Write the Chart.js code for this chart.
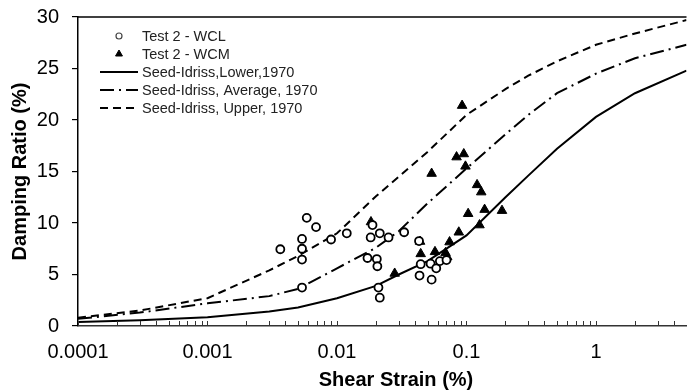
<!DOCTYPE html>
<html>
<head>
<meta charset="utf-8">
<script src="https://cdn.jsdelivr.net/npm/chart.js@4.4.1/dist/chart.umd.min.js"></script>
<style>
  html, body { margin: 0; padding: 0; background: #fff; overflow: hidden; }
  #wrap { width: 687px; height: 392px; overflow: hidden; }
  canvas { display: block; }
</style>
</head>
<body>
<div id="wrap"><canvas id="dampingGraph" width="693" height="392"></canvas></div>
<script>
// Seed & Idriss (1970) damping bounds for sand
const curveStrain = [0.0001, 0.0003, 0.001, 0.003, 0.005, 0.01, 0.02, 0.03, 0.05, 0.1, 0.2, 0.3, 0.5, 1, 2, 5];
const lowerDamping = [0.4, 0.55, 0.85, 1.4, 1.8, 2.7, 3.9, 5.0, 6.3, 8.8, 12.5, 14.6, 17.2, 20.3, 22.6, 24.8];
const averageDamping = [0.7, 1.3, 2.2, 2.9, 3.6, 5.6, 7.6, 9.2, 11.9, 15.3, 18.6, 20.5, 22.6, 24.5, 26.0, 27.3];
const upperDamping = [0.8, 1.5, 2.7, 5.4, 6.8, 9.0, 12.6, 14.5, 16.9, 20.5, 23.0, 24.3, 25.7, 27.3, 28.4, 29.7];

// Test 2 measurements
const wclStrain = [0.00365, 0.00537, 0.00537, 0.00537, 0.00537, 0.00584, 0.00689, 0.0090, 0.0119, 0.0172,
                   0.0182, 0.0188, 0.0203, 0.0205, 0.0209, 0.0214, 0.0214, 0.0250, 0.0330, 0.0430,
                   0.0434, 0.0443, 0.0528, 0.0538, 0.0584, 0.0623, 0.0701];
const wclDamping = [7.45, 3.73, 6.45, 7.5, 8.45, 10.5, 9.6, 8.4, 9.0, 6.6,
                    8.6, 9.8, 6.5, 5.8, 3.73, 9.0, 2.75, 8.6, 9.1, 8.25,
                    4.9, 6.0, 6.05, 4.5, 5.6, 6.3, 6.4];
const wcmStrain = [0.0183, 0.0279, 0.0438, 0.0443, 0.0538, 0.0571, 0.0689, 0.0710, 0.0740, 0.0872,
                   0.0838, 0.0925, 0.0953, 0.0982, 0.103, 0.1207, 0.130, 0.126, 0.138, 0.188];
const wcmDamping = [10.1, 5.1, 8.2, 7.0, 14.8, 7.2, 7.1, 6.7, 8.15, 9.1,
                    16.4, 21.4, 16.7, 15.5, 10.9, 13.7, 13.0, 9.8, 11.3, 11.2];

const strainTicks = ['0.0001', '0.001', '0.01', '0.1', '1'];
const dampingTicks = [0, 5, 10, 15, 20, 25, 30];

const seriesNames = ['Test 2 - WCL', 'Test 2 - WCM', 'Seed-Idriss,Lower,1970',
                     'Seed-Idriss, Average, 1970', 'Seed-Idriss, Upper, 1970'];
const strainTitle = 'Shear Strain (%)';

function pairUp(xs, ys) {
    return xs.map((x, i) => ({ x: x, y: ys[i] }));
}

Chart.defaults.font.family = '"Liberation Sans", Arial, sans-serif';
Chart.defaults.color = '#000';

// legend drawn inside the plot, top left
const insideLegend = {
    id: 'insideLegend',
    afterDraw(chart) {
        const c = chart.ctx;
        const sx = 100, ex = 138, tx = 142, mx = 119;
        c.save();
        c.font = '14.5px "Liberation Sans", Arial, sans-serif';
        c.textBaseline = 'middle';
        chart.data.datasets.forEach((ds, i) => {
            const y = 36 + i * 18;
            if (ds.showLine) {
                c.beginPath();
                c.setLineDash(ds.borderDash || []);
                c.lineWidth = ds.borderWidth;
                c.strokeStyle = ds.borderColor;
                c.moveTo(sx, y);
                c.lineTo(ex, y);
                c.stroke();
                c.setLineDash([]);
            } else if (ds.pointStyle === 'circle') {
                c.beginPath();
                c.arc(mx, y, 3, 0, Math.PI * 2);
                c.fillStyle = '#fff';
                c.fill();
                c.strokeStyle = '#444';
                c.lineWidth = 1.2;
                c.stroke();
            } else {
                c.fillStyle = '#000';
                c.strokeStyle = '#000';
                c.lineWidth = 1;
                Chart.helpers.drawPoint(c, { pointStyle: 'triangle', radius: 4, borderWidth: 1, rotation: 0 }, mx, y);
            }
            c.fillStyle = '#222';
            c.fillText(ds.label, tx, y + 1);
        });
        c.restore();
    }
};

// frame line on top, inward minor ticks and the strain axis title
const frameAndTicks = {
    id: 'frameAndTicks',
    afterDraw(chart) {
        const c = chart.ctx;
        const area = chart.chartArea;
        const xs = chart.scales.x;
        c.save();
        c.strokeStyle = '#000';
        c.lineWidth = 1.5;
        c.beginPath();
        c.moveTo(area.left, area.top);
        c.lineTo(area.right, area.top);
        c.stroke();
        c.strokeStyle = '#333';
        c.lineWidth = 1;
        xs.ticks.forEach(t => {
            const px = Math.round(xs.getPixelForValue(t.value)) + 0.5;
            c.beginPath();
            c.moveTo(px, area.bottom);
            c.lineTo(px, area.bottom - 5);
            c.stroke();
        });
        c.font = 'bold 20px "Liberation Sans", Arial, sans-serif';
        c.fillStyle = '#000';
        c.textAlign = 'center';
        c.textBaseline = 'middle';
        c.fillText(strainTitle, 396, 380);
        c.restore();
    }
};

const ctx = document.getElementById('dampingGraph');

new Chart(ctx, {
    type: 'scatter',
    data: {
        datasets: [{
            label: seriesNames[0],
            data: pairUp(wclStrain, wclDamping),
            pointStyle: 'circle',
            pointRadius: 4,
            pointBorderWidth: 1.8,
            pointBorderColor: '#000',
            pointBackgroundColor: '#fff',
            showLine: false
        }, {
            label: seriesNames[1],
            data: pairUp(wcmStrain, wcmDamping),
            pointStyle: 'triangle',
            pointRadius: 5.5,
            pointBorderWidth: 1,
            pointBorderColor: '#000',
            pointBackgroundColor: '#000',
            showLine: false
        }, {
            label: seriesNames[2],
            data: pairUp(curveStrain, lowerDamping),
            showLine: true,
            borderColor: '#000',
            borderWidth: 2,
            pointRadius: 0,
            tension: 0
        }, {
            label: seriesNames[3],
            data: pairUp(curveStrain, averageDamping),
            showLine: true,
            borderColor: '#000',
            borderWidth: 2,
            borderDash: [14, 5, 2, 5],
            pointRadius: 0,
            tension: 0
        }, {
            label: seriesNames[4],
            data: pairUp(curveStrain, upperDamping),
            showLine: true,
            borderColor: '#000',
            borderWidth: 2,
            borderDash: [8, 5],
            pointRadius: 0,
            tension: 0
        }]
    },
    options: {
        responsive: false,
        animation: false,
        devicePixelRatio: 1,
        layout: { padding: { top: 17, right: 0, left: 0, bottom: 0 } },
        plugins: {
            legend: { display: false },
            tooltip: { enabled: false }
        },
        scales: {
            x: {
                type: 'logarithmic',
                min: 0.0001,
                max: 5,
                afterBuildTicks(scale) {
                    const ticks = [];
                    for (let d = -4; d <= 0; d++) {
                        for (let m = 1; m <= 9; m++) {
                            const v = m * Math.pow(10, d);
                            if (v <= 5.0001) ticks.push({ value: v });
                        }
                    }
                    scale.ticks = ticks;
                },
                afterFit(scale) {
                    scale.height = 66;
                    scale.paddingLeft = 0;
                    scale.paddingRight = 0;
                },
                grid: { display: false, drawTicks: false },
                border: { display: true, color: '#333', width: 1.5 },
                ticks: {
                    autoSkip: false,
                    maxRotation: 0,
                    padding: 14,
                    font: { size: 20 },
                    callback(value) {
                        const s = strainTicks.find(t => Math.abs(Number(t) - value) < value * 1e-6);
                        return s || '';
                    }
                },
                title: { display: false }
            },
            y: {
                min: 0,
                max: 30,
                afterBuildTicks(scale) {
                    scale.ticks = dampingTicks.map(v => ({ value: v }));
                },
                afterFit(scale) {
                    scale.width = 78;
                    scale.paddingTop = 0;
                    scale.paddingBottom = 0;
                },
                grid: { drawOnChartArea: false, drawTicks: true, tickLength: 6, color: '#000', lineWidth: 1.2 },
                border: { display: true, color: '#000', width: 1.5 },
                ticks: {
                    padding: 13,
                    font: { size: 20 }
                },
                title: {
                    display: true,
                    text: 'Damping Ratio (%)',
                    font: { size: 20, weight: 'bold' },
                    padding: { top: 8, bottom: 0 }
                }
            }
        }
    },
    plugins: [insideLegend, frameAndTicks]
});
</script>
</body>
</html>
